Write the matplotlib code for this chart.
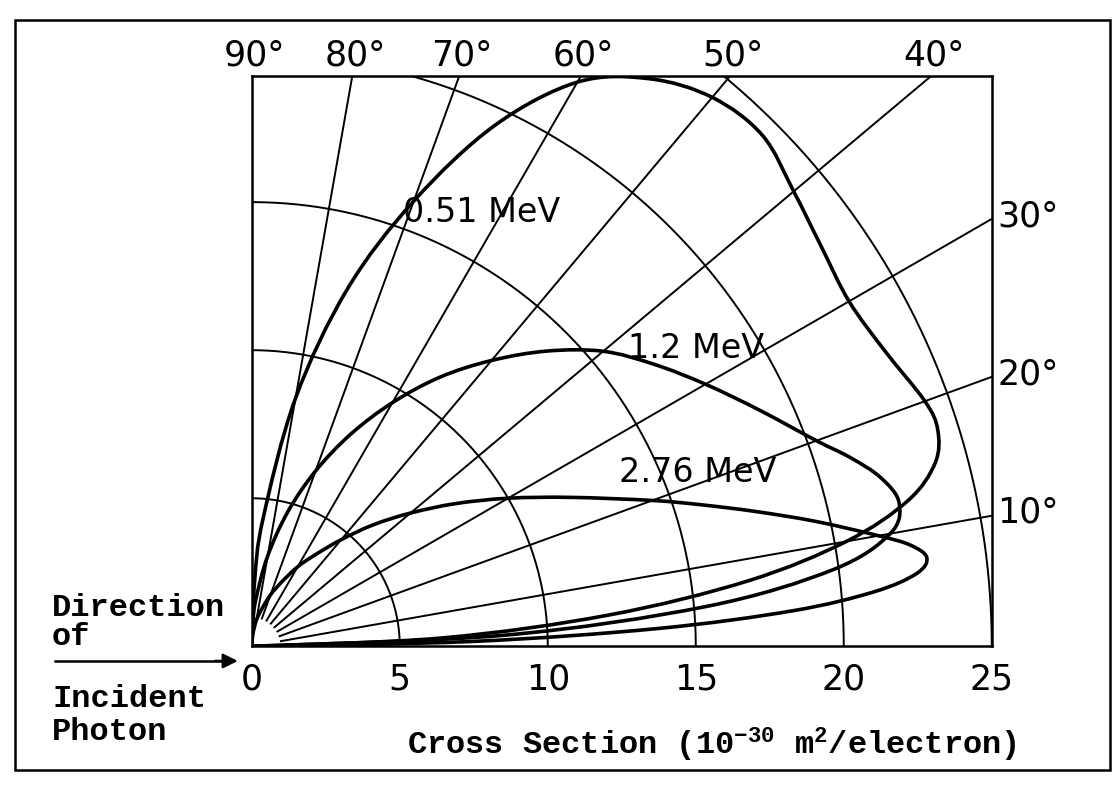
import numpy as np
import matplotlib.pyplot as plt
from matplotlib.path import Path
from matplotlib.patches import PathPatch

plt.rcParams['mathtext.fontset'] = 'custom'
plt.rcParams['mathtext.rm'] = 'Liberation Mono:bold'
plt.rcParams['mathtext.default'] = 'rm'

# recoil electron angle (deg) and cross section per unit angle (10^-30 m^2/electron)
angle_051 = [0, 2.5, 5, 7.5, 10, 12.5, 15, 17.5, 20, 25, 30, 35, 40, 45, 50, 55, 60, 65, 70, 75, 80, 85, 87.5, 90]
sigma_051 = [0, 6.4, 12.1, 16.9, 20.4, 22.7, 23.9, 24.3, 24.2, 23.6, 23.3, 23.5, 23.9, 24.4, 24.2, 23.4, 22.0, 19.4, 16.0, 12.5, 8.5, 4.3, 2.2, 0]

angle_12 = [0, 2.5, 5, 7.5, 10, 12.5, 15, 17.5, 20, 25, 30, 35, 40, 45, 50, 55, 60, 65, 70, 75, 80, 85, 87.5, 90]
sigma_12 = [0, 8.5, 15.4, 19.8, 21.9, 22.4, 22.0, 21.2, 20.3, 18.9, 17.7, 16.6, 15.5, 14.1, 12.6, 11.1, 9.5, 7.9, 6.3, 4.7, 3.1, 1.6, 0.8, 0]

angle_276 = [0, 1.25, 2.5, 3.75, 5, 6.25, 7.5, 8.75, 10, 12.5, 15, 17.5, 20, 25, 30, 35, 40, 45, 50, 55, 60, 65, 70, 75, 80, 85, 90]
sigma_276 = [0, 7.4, 13.7, 18.3, 21.1, 22.6, 23.0, 22.5, 21.5, 19.5, 17.6, 15.9, 14.4, 11.9, 10.0, 8.4, 7.0, 5.8, 4.7, 3.8, 3.1, 2.4, 1.85, 1.3, 0.9, 0.4, 0]

curve_labels = ['0.51 MeV', '1.2 MeV', '2.76 MeV']
curve_label_xy = [(5.1, 14.1), (12.7, 9.5), (12.4, 5.3)]

radius_ticks = [0, 5, 10, 15, 20, 25]
grid_radii = [5, 10, 15, 20, 25]
spoke_angles = [10, 20, 30, 40, 50, 60, 70, 80]
top_angles = [90, 80, 70, 60, 50, 40]
side_angles = [30, 20, 10]

x_max, y_max = 25, 19.25


def smooth_path(x, y):
    # cubic bezier through every point (catmull-rom tangents)
    pts = np.column_stack([x, y])
    n = len(pts)
    verts = [pts[0]]
    codes = [Path.MOVETO]
    for i in range(n - 1):
        p0 = pts[i - 1] if i > 0 else pts[i]
        p1, p2 = pts[i], pts[i + 1]
        p3 = pts[i + 2] if i + 2 < n else pts[i + 1]
        verts += [p1 + (p2 - p0) / 6, p2 - (p3 - p1) / 6, p2]
        codes += [Path.CURVE4] * 3
    return Path(verts, codes)


fig = plt.figure(figsize=(11.19, 7.93), dpi=100)
ax = fig.add_axes([0.225, 0.185, 0.6613, 0.7188])
ax.set_xlim(0, x_max)
ax.set_ylim(0, y_max)
for s in ax.spines.values():
    s.set_linewidth(1.8)

# circles of constant cross section
for r in grid_radii:
    a_end = 90 if r <= y_max else np.degrees(np.arcsin(y_max / r))
    t = np.radians(np.linspace(0, a_end, 200))
    ax.plot(r * np.cos(t), r * np.sin(t), color='black', lw=1.4)

# spokes of constant angle, running out to the frame
for a in spoke_angles:
    t = np.radians(a)
    r_end = min(x_max / np.cos(t), y_max / np.sin(t))
    ax.plot([1.0 * np.cos(t), r_end * np.cos(t)], [1.0 * np.sin(t), r_end * np.sin(t)],
            color='black', lw=1.4)

for ang, sig in [(angle_051, sigma_051), (angle_12, sigma_12), (angle_276, sigma_276)]:
    t = np.radians(ang)
    r = np.array(sig)
    ax.add_patch(PathPatch(smooth_path(r * np.cos(t), r * np.sin(t)), fill=False,
                           edgecolor='black', lw=2.6, joinstyle='round', capstyle='round'))

for txt, (x, y) in zip(curve_labels, curve_label_xy):
    ax.text(x, y, txt, fontsize=24, ha='left', va='bottom')

# angle labels on the top and right edges
for a in top_angles:
    x = 0 if a == 90 else y_max / np.tan(np.radians(a))
    ax.annotate(f'{a}°', (x, y_max), xytext=(2, 3), textcoords='offset points',
                ha='center', va='bottom', fontsize=25, annotation_clip=False)
for a in side_angles:
    y = x_max * np.tan(np.radians(a))
    ax.annotate(f'{a}°', (x_max, y), xytext=(4, 2), textcoords='offset points',
                ha='left', va='center', fontsize=25, annotation_clip=False)

ax.set_xticks(radius_ticks)
ax.set_xticklabels([str(v) for v in radius_ticks])
ax.set_yticks([])
ax.tick_params(axis='x', length=0, pad=12, labelsize=25)

mono = dict(family='Liberation Mono', weight='bold', fontsize=23)
fig.text(0.0465, 0.2232, 'Direction', va='baseline', **mono)
fig.text(0.0465, 0.1866, 'of', va='baseline', **mono)
fig.text(0.0465, 0.1084, 'Incident', va='baseline', **mono)
fig.text(0.0465, 0.0668, 'Photon', va='baseline', **mono)
fig.text(0.636, 0.048, r'Cross Section (10$^{-30}$ m$^{2}$/electron)', ha='center', va='baseline', **mono)

fig.add_artist(plt.Line2D([0.049, 0.205], [0.1665, 0.1665], color='black', lw=1.8))
ax.annotate('', xy=(0.215, 0.1665), xytext=(0.19, 0.1665), xycoords='figure fraction',
            arrowprops=dict(arrowstyle='-|>', color='black', lw=1.8, mutation_scale=22))

# page border
fig.add_artist(plt.Rectangle((15 / 1119, 1 - 770 / 793), 1095 / 1119, 750 / 793,
                             transform=fig.transFigure, fill=False, lw=1.8, color='black'))

fig.savefig('out.png', dpi=100, facecolor='white')
